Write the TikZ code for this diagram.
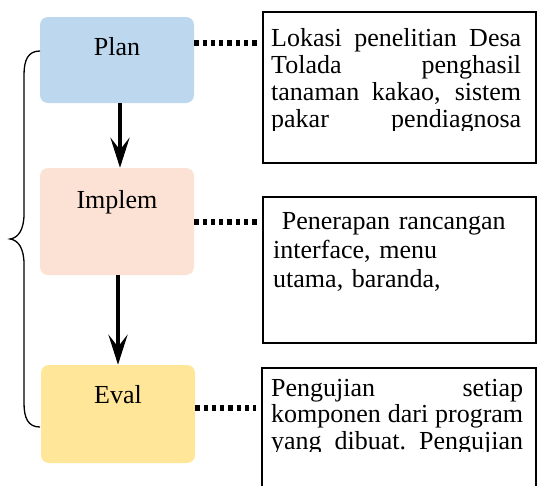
\documentclass[tikz,border=0pt]{standalone}
\usepackage{fontspec}
\setmainfont{Liberation Serif}
\usetikzlibrary{arrows.meta}
\definecolor{planblue}{HTML}{BDD7EE}
\definecolor{implpeach}{HTML}{FBE2D5}
\definecolor{evalyellow}{HTML}{FFE699}
\begin{document}
\begin{tikzpicture}[x=1pt,y=-1pt,
    stage/.style={fill=#1,rounded corners=8pt,inner sep=0pt,minimum width=154pt,font=\fontsize{26}{27}\selectfont},
    desc/.style={draw,line width=1.5pt,inner sep=0pt,minimum width=273pt},
    desctext/.style={inner sep=0pt,text width=#1,anchor=base west,align=justify,font=\fontsize{26}{26.8}\selectfont},
    flow/.style={line width=4.5pt,-{Stealth[length=30pt,width=19pt,inset=12pt]}},
    dotline/.style={line width=6pt,dash pattern=on 4.3pt off 4pt,shorten >=5pt}]
  \useasboundingbox (0,0) rectangle (537,485);
  \node[stage=planblue,text height=38pt,text depth=48pt] (plan) at (117,60) {Plan};
  \node[stage=implpeach,text height=40pt,text depth=67pt] (implem) at (117,221.5) {Implem};
  \node[stage=evalyellow,text height=38pt,text depth=60pt] (eval) at (118,414) {Eval};
  \draw[flow] ([xshift=3pt]plan.south) -- ([xshift=3pt]implem.north);
  \draw[flow] (implem.south -| eval.north) -- (eval.north);
  \draw[line width=1.3pt] (40,51) .. controls (28,51) and (24,60) .. (24,75) -- (24,214)
    .. controls (24,230) and (18,238) .. (10,239) .. controls (18,240) and (24,248) .. (24,264)
    -- (24,403) .. controls (24,418) and (28,427) .. (40,427);
  \node[desc,minimum height=151pt] (lok) at (399.5,87.5) {};
  \node[desc,minimum height=146pt] (terap) at (399.5,270) {};
  \node[desc,minimum height=132pt,minimum width=274pt] (uji) at (399,434) {};
  \begin{scope}
    \clip (lok.north west) rectangle (536,130.5);
    \node[desctext=250pt] (loktext) at (271,46.7) {Lokasi penelitian Desa\linebreak Tolada penghasil\linebreak tanaman kakao, sistem\linebreak pakar\hfill pendiagnosa};
  \end{scope}
  \node[desctext=255pt,align=left,font=\fontsize{26}{29}\selectfont] (teraptext) at (273,229) {\ Penerapan rancangan\\interface, menu\\utama, baranda,};
  \begin{scope}
    \clip (uji.north west) rectangle (536,451.5);
    \node[desctext=252pt] (ujitext) at (271,396) {Pengujian setiap\linebreak komponen dari program\linebreak yang\hfill dibuat.\hfill Pengujian};
  \end{scope}
  \draw[dotline] ([yshift=17pt]plan.east) -- ([yshift=17pt]plan.east -| lok.west);
  \draw[dotline] (implem.east) -- (implem.east -| terap.west);
  \draw[dotline] ([yshift=6pt]eval.east) -- ([yshift=6pt]eval.east -| uji.west);
\end{tikzpicture}
\end{document}
